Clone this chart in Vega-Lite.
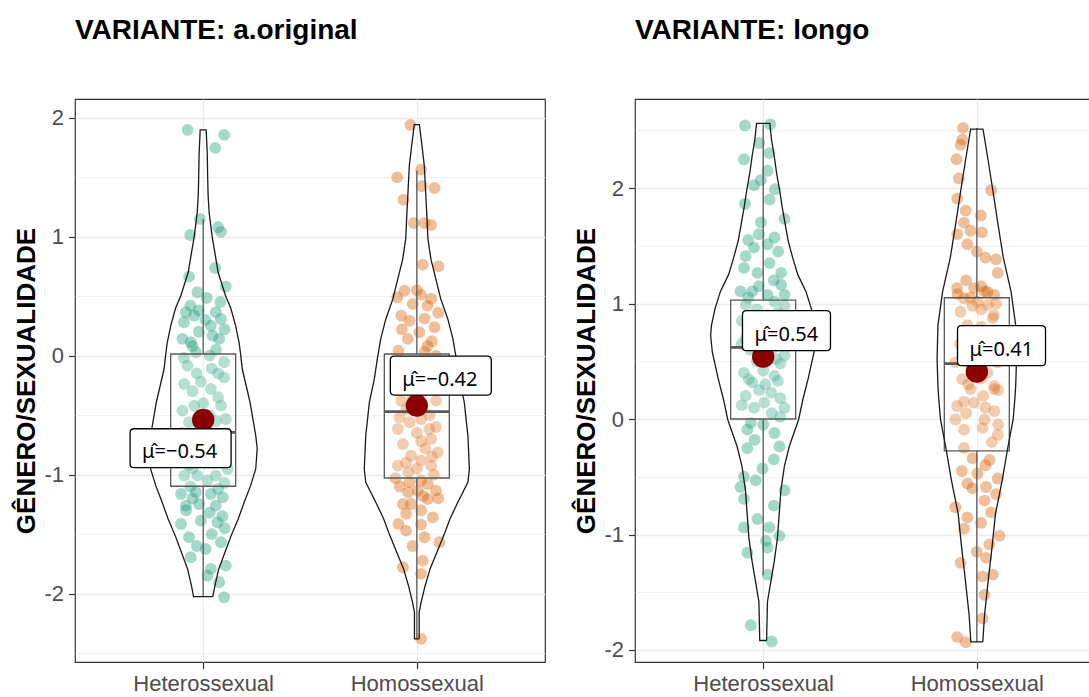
{
  "$schema": "https://vega.github.io/schema/vega-lite/v6.json",
  "padding": {"left": 13, "top": 16, "right": 0, "bottom": 0},
  "spacing": 27,
  "config": {
    "font": "Liberation Sans",
    "view": {"stroke": "#333333", "strokeWidth": 1.2},
    "axis": {
      "labelFont": "Liberation Sans",
      "labelFontSize": 22,
      "labelColor": "#4D4D4D",
      "tickColor": "#333333",
      "tickSize": 6.5,
      "tickWidth": 1.2,
      "labelPadding": 5,
      "domain": false,
      "gridColor": "#EBEBEB",
      "titleFont": "Liberation Sans",
      "titleFontSize": 26,
      "titleFontWeight": "bold",
      "titleColor": "#000000"
    }
  },
  "datasets": {
    "estat": [
      {"variante": "a.original", "grupo": "Heterossexual", "lo": -2.026, "q1": -1.098, "mediana": -0.645, "q3": 0.013, "hi": 1.148, "media": -0.54, "rotulo": "μ̂=−0.54"},
      {"variante": "a.original", "grupo": "Homossexual", "lo": -2.38, "q1": -1.029, "mediana": -0.471, "q3": 0.013, "hi": 1.554, "media": -0.42, "rotulo": "μ̂=−0.42"},
      {"variante": "longo", "grupo": "Heterossexual", "lo": -1.35, "q1": 0.0, "mediana": 0.62, "q3": 1.03, "hi": 2.55, "media": 0.54, "rotulo": "μ̂=0.54"},
      {"variante": "longo", "grupo": "Homossexual", "lo": -1.93, "q1": -0.276, "mediana": 0.48, "q3": 1.05, "hi": 2.52, "media": 0.41, "rotulo": "μ̂=0.41"}
    ],
    "violino": [
      {"variante": "a.original", "grupo": "Heterossexual", "valor": -2.026, "dens": 0.045, "ordem": 1},
      {"variante": "a.original", "grupo": "Heterossexual", "valor": -1.934, "dens": 0.055, "ordem": 2},
      {"variante": "a.original", "grupo": "Heterossexual", "valor": -1.793, "dens": 0.073, "ordem": 3},
      {"variante": "a.original", "grupo": "Heterossexual", "valor": -1.653, "dens": 0.102, "ordem": 4},
      {"variante": "a.original", "grupo": "Heterossexual", "valor": -1.513, "dens": 0.131, "ordem": 5},
      {"variante": "a.original", "grupo": "Heterossexual", "valor": -1.373, "dens": 0.164, "ordem": 6},
      {"variante": "a.original", "grupo": "Heterossexual", "valor": -1.233, "dens": 0.192, "ordem": 7},
      {"variante": "a.original", "grupo": "Heterossexual", "valor": -1.093, "dens": 0.222, "ordem": 8},
      {"variante": "a.original", "grupo": "Heterossexual", "valor": -0.953, "dens": 0.246, "ordem": 9},
      {"variante": "a.original", "grupo": "Heterossexual", "valor": -0.78, "dens": 0.253, "ordem": 10},
      {"variante": "a.original", "grupo": "Heterossexual", "valor": -0.673, "dens": 0.246, "ordem": 11},
      {"variante": "a.original", "grupo": "Heterossexual", "valor": -0.39, "dens": 0.219, "ordem": 12},
      {"variante": "a.original", "grupo": "Heterossexual", "valor": -0.113, "dens": 0.183, "ordem": 13},
      {"variante": "a.original", "grupo": "Heterossexual", "valor": 0.0, "dens": 0.176, "ordem": 14},
      {"variante": "a.original", "grupo": "Heterossexual", "valor": 0.1, "dens": 0.169, "ordem": 15},
      {"variante": "a.original", "grupo": "Heterossexual", "valor": 0.25, "dens": 0.152, "ordem": 16},
      {"variante": "a.original", "grupo": "Heterossexual", "valor": 0.4, "dens": 0.129, "ordem": 17},
      {"variante": "a.original", "grupo": "Heterossexual", "valor": 0.5, "dens": 0.105, "ordem": 18},
      {"variante": "a.original", "grupo": "Heterossexual", "valor": 0.7, "dens": 0.07, "ordem": 19},
      {"variante": "a.original", "grupo": "Heterossexual", "valor": 0.85, "dens": 0.056, "ordem": 20},
      {"variante": "a.original", "grupo": "Heterossexual", "valor": 1.0, "dens": 0.042, "ordem": 21},
      {"variante": "a.original", "grupo": "Heterossexual", "valor": 1.1, "dens": 0.035, "ordem": 22},
      {"variante": "a.original", "grupo": "Heterossexual", "valor": 1.2, "dens": 0.028, "ordem": 23},
      {"variante": "a.original", "grupo": "Heterossexual", "valor": 1.35, "dens": 0.023, "ordem": 24},
      {"variante": "a.original", "grupo": "Heterossexual", "valor": 1.5, "dens": 0.021, "ordem": 25},
      {"variante": "a.original", "grupo": "Heterossexual", "valor": 1.7, "dens": 0.019, "ordem": 26},
      {"variante": "a.original", "grupo": "Heterossexual", "valor": 1.896, "dens": 0.014, "ordem": 27},
      {"variante": "a.original", "grupo": "Heterossexual", "valor": 1.896, "dens": -0.014, "ordem": 28},
      {"variante": "a.original", "grupo": "Heterossexual", "valor": 1.7, "dens": -0.019, "ordem": 29},
      {"variante": "a.original", "grupo": "Heterossexual", "valor": 1.5, "dens": -0.021, "ordem": 30},
      {"variante": "a.original", "grupo": "Heterossexual", "valor": 1.35, "dens": -0.023, "ordem": 31},
      {"variante": "a.original", "grupo": "Heterossexual", "valor": 1.2, "dens": -0.028, "ordem": 32},
      {"variante": "a.original", "grupo": "Heterossexual", "valor": 1.1, "dens": -0.035, "ordem": 33},
      {"variante": "a.original", "grupo": "Heterossexual", "valor": 1.0, "dens": -0.042, "ordem": 34},
      {"variante": "a.original", "grupo": "Heterossexual", "valor": 0.85, "dens": -0.056, "ordem": 35},
      {"variante": "a.original", "grupo": "Heterossexual", "valor": 0.7, "dens": -0.07, "ordem": 36},
      {"variante": "a.original", "grupo": "Heterossexual", "valor": 0.5, "dens": -0.105, "ordem": 37},
      {"variante": "a.original", "grupo": "Heterossexual", "valor": 0.4, "dens": -0.129, "ordem": 38},
      {"variante": "a.original", "grupo": "Heterossexual", "valor": 0.25, "dens": -0.152, "ordem": 39},
      {"variante": "a.original", "grupo": "Heterossexual", "valor": 0.1, "dens": -0.169, "ordem": 40},
      {"variante": "a.original", "grupo": "Heterossexual", "valor": 0.0, "dens": -0.176, "ordem": 41},
      {"variante": "a.original", "grupo": "Heterossexual", "valor": -0.113, "dens": -0.183, "ordem": 42},
      {"variante": "a.original", "grupo": "Heterossexual", "valor": -0.39, "dens": -0.219, "ordem": 43},
      {"variante": "a.original", "grupo": "Heterossexual", "valor": -0.673, "dens": -0.246, "ordem": 44},
      {"variante": "a.original", "grupo": "Heterossexual", "valor": -0.78, "dens": -0.253, "ordem": 45},
      {"variante": "a.original", "grupo": "Heterossexual", "valor": -0.953, "dens": -0.246, "ordem": 46},
      {"variante": "a.original", "grupo": "Heterossexual", "valor": -1.093, "dens": -0.222, "ordem": 47},
      {"variante": "a.original", "grupo": "Heterossexual", "valor": -1.233, "dens": -0.192, "ordem": 48},
      {"variante": "a.original", "grupo": "Heterossexual", "valor": -1.373, "dens": -0.164, "ordem": 49},
      {"variante": "a.original", "grupo": "Heterossexual", "valor": -1.513, "dens": -0.131, "ordem": 50},
      {"variante": "a.original", "grupo": "Heterossexual", "valor": -1.653, "dens": -0.102, "ordem": 51},
      {"variante": "a.original", "grupo": "Heterossexual", "valor": -1.793, "dens": -0.073, "ordem": 52},
      {"variante": "a.original", "grupo": "Heterossexual", "valor": -1.934, "dens": -0.055, "ordem": 53},
      {"variante": "a.original", "grupo": "Heterossexual", "valor": -2.026, "dens": -0.045, "ordem": 54},
      {"variante": "a.original", "grupo": "Heterossexual", "valor": -2.026, "dens": 0.045, "ordem": 55},

      {"variante": "a.original", "grupo": "Homossexual", "valor": -2.38, "dens": 0.011, "ordem": 1},
      {"variante": "a.original", "grupo": "Homossexual", "valor": -2.157, "dens": 0.011, "ordem": 2},
      {"variante": "a.original", "grupo": "Homossexual", "valor": -2.074, "dens": 0.02, "ordem": 3},
      {"variante": "a.original", "grupo": "Homossexual", "valor": -1.934, "dens": 0.039, "ordem": 4},
      {"variante": "a.original", "grupo": "Homossexual", "valor": -1.793, "dens": 0.062, "ordem": 5},
      {"variante": "a.original", "grupo": "Homossexual", "valor": -1.653, "dens": 0.094, "ordem": 6},
      {"variante": "a.original", "grupo": "Homossexual", "valor": -1.513, "dens": 0.126, "ordem": 7},
      {"variante": "a.original", "grupo": "Homossexual", "valor": -1.373, "dens": 0.155, "ordem": 8},
      {"variante": "a.original", "grupo": "Homossexual", "valor": -1.233, "dens": 0.192, "ordem": 9},
      {"variante": "a.original", "grupo": "Homossexual", "valor": -1.065, "dens": 0.239, "ordem": 10},
      {"variante": "a.original", "grupo": "Homossexual", "valor": -0.953, "dens": 0.246, "ordem": 11},
      {"variante": "a.original", "grupo": "Homossexual", "valor": -0.673, "dens": 0.239, "ordem": 12},
      {"variante": "a.original", "grupo": "Homossexual", "valor": -0.392, "dens": 0.222, "ordem": 13},
      {"variante": "a.original", "grupo": "Homossexual", "valor": -0.197, "dens": 0.199, "ordem": 14},
      {"variante": "a.original", "grupo": "Homossexual", "valor": -0.03, "dens": 0.185, "ordem": 15},
      {"variante": "a.original", "grupo": "Homossexual", "valor": 0.14, "dens": 0.169, "ordem": 16},
      {"variante": "a.original", "grupo": "Homossexual", "valor": 0.308, "dens": 0.145, "ordem": 17},
      {"variante": "a.original", "grupo": "Homossexual", "valor": 0.476, "dens": 0.112, "ordem": 18},
      {"variante": "a.original", "grupo": "Homossexual", "valor": 0.644, "dens": 0.089, "ordem": 19},
      {"variante": "a.original", "grupo": "Homossexual", "valor": 0.81, "dens": 0.066, "ordem": 20},
      {"variante": "a.original", "grupo": "Homossexual", "valor": 0.98, "dens": 0.052, "ordem": 21},
      {"variante": "a.original", "grupo": "Homossexual", "valor": 1.176, "dens": 0.047, "ordem": 22},
      {"variante": "a.original", "grupo": "Homossexual", "valor": 1.316, "dens": 0.043, "ordem": 23},
      {"variante": "a.original", "grupo": "Homossexual", "valor": 1.456, "dens": 0.039, "ordem": 24},
      {"variante": "a.original", "grupo": "Homossexual", "valor": 1.596, "dens": 0.035, "ordem": 25},
      {"variante": "a.original", "grupo": "Homossexual", "valor": 1.736, "dens": 0.026, "ordem": 26},
      {"variante": "a.original", "grupo": "Homossexual", "valor": 1.94, "dens": 0.012, "ordem": 27},
      {"variante": "a.original", "grupo": "Homossexual", "valor": 1.94, "dens": -0.012, "ordem": 28},
      {"variante": "a.original", "grupo": "Homossexual", "valor": 1.736, "dens": -0.026, "ordem": 29},
      {"variante": "a.original", "grupo": "Homossexual", "valor": 1.596, "dens": -0.035, "ordem": 30},
      {"variante": "a.original", "grupo": "Homossexual", "valor": 1.456, "dens": -0.039, "ordem": 31},
      {"variante": "a.original", "grupo": "Homossexual", "valor": 1.316, "dens": -0.043, "ordem": 32},
      {"variante": "a.original", "grupo": "Homossexual", "valor": 1.176, "dens": -0.047, "ordem": 33},
      {"variante": "a.original", "grupo": "Homossexual", "valor": 0.98, "dens": -0.052, "ordem": 34},
      {"variante": "a.original", "grupo": "Homossexual", "valor": 0.81, "dens": -0.066, "ordem": 35},
      {"variante": "a.original", "grupo": "Homossexual", "valor": 0.644, "dens": -0.089, "ordem": 36},
      {"variante": "a.original", "grupo": "Homossexual", "valor": 0.476, "dens": -0.112, "ordem": 37},
      {"variante": "a.original", "grupo": "Homossexual", "valor": 0.308, "dens": -0.145, "ordem": 38},
      {"variante": "a.original", "grupo": "Homossexual", "valor": 0.14, "dens": -0.169, "ordem": 39},
      {"variante": "a.original", "grupo": "Homossexual", "valor": -0.03, "dens": -0.185, "ordem": 40},
      {"variante": "a.original", "grupo": "Homossexual", "valor": -0.197, "dens": -0.199, "ordem": 41},
      {"variante": "a.original", "grupo": "Homossexual", "valor": -0.392, "dens": -0.222, "ordem": 42},
      {"variante": "a.original", "grupo": "Homossexual", "valor": -0.673, "dens": -0.239, "ordem": 43},
      {"variante": "a.original", "grupo": "Homossexual", "valor": -0.953, "dens": -0.246, "ordem": 44},
      {"variante": "a.original", "grupo": "Homossexual", "valor": -1.065, "dens": -0.239, "ordem": 45},
      {"variante": "a.original", "grupo": "Homossexual", "valor": -1.233, "dens": -0.192, "ordem": 46},
      {"variante": "a.original", "grupo": "Homossexual", "valor": -1.373, "dens": -0.155, "ordem": 47},
      {"variante": "a.original", "grupo": "Homossexual", "valor": -1.513, "dens": -0.126, "ordem": 48},
      {"variante": "a.original", "grupo": "Homossexual", "valor": -1.653, "dens": -0.094, "ordem": 49},
      {"variante": "a.original", "grupo": "Homossexual", "valor": -1.793, "dens": -0.062, "ordem": 50},
      {"variante": "a.original", "grupo": "Homossexual", "valor": -1.934, "dens": -0.039, "ordem": 51},
      {"variante": "a.original", "grupo": "Homossexual", "valor": -2.074, "dens": -0.02, "ordem": 52},
      {"variante": "a.original", "grupo": "Homossexual", "valor": -2.157, "dens": -0.011, "ordem": 53},
      {"variante": "a.original", "grupo": "Homossexual", "valor": -2.38, "dens": -0.011, "ordem": 54},
      {"variante": "a.original", "grupo": "Homossexual", "valor": -2.38, "dens": 0.011, "ordem": 55},

      {"variante": "longo", "grupo": "Heterossexual", "valor": -1.918, "dens": 0.016, "ordem": 1},
      {"variante": "longo", "grupo": "Heterossexual", "valor": -1.582, "dens": 0.02, "ordem": 2},
      {"variante": "longo", "grupo": "Heterossexual", "valor": -1.406, "dens": 0.036, "ordem": 3},
      {"variante": "longo", "grupo": "Heterossexual", "valor": -1.231, "dens": 0.052, "ordem": 4},
      {"variante": "longo", "grupo": "Heterossexual", "valor": -1.027, "dens": 0.067, "ordem": 5},
      {"variante": "longo", "grupo": "Heterossexual", "valor": -0.823, "dens": 0.075, "ordem": 6},
      {"variante": "longo", "grupo": "Heterossexual", "valor": -0.617, "dens": 0.083, "ordem": 7},
      {"variante": "longo", "grupo": "Heterossexual", "valor": -0.413, "dens": 0.099, "ordem": 8},
      {"variante": "longo", "grupo": "Heterossexual", "valor": -0.238, "dens": 0.122, "ordem": 9},
      {"variante": "longo", "grupo": "Heterossexual", "valor": -0.004, "dens": 0.166, "ordem": 10},
      {"variante": "longo", "grupo": "Heterossexual", "valor": 0.171, "dens": 0.186, "ordem": 11},
      {"variante": "longo", "grupo": "Heterossexual", "valor": 0.346, "dens": 0.21, "ordem": 12},
      {"variante": "longo", "grupo": "Heterossexual", "valor": 0.578, "dens": 0.238, "ordem": 13},
      {"variante": "longo", "grupo": "Heterossexual", "valor": 0.725, "dens": 0.246, "ordem": 14},
      {"variante": "longo", "grupo": "Heterossexual", "valor": 0.812, "dens": 0.242, "ordem": 15},
      {"variante": "longo", "grupo": "Heterossexual", "valor": 0.958, "dens": 0.225, "ordem": 16},
      {"variante": "longo", "grupo": "Heterossexual", "valor": 1.105, "dens": 0.2, "ordem": 17},
      {"variante": "longo", "grupo": "Heterossexual", "valor": 1.25, "dens": 0.162, "ordem": 18},
      {"variante": "longo", "grupo": "Heterossexual", "valor": 1.397, "dens": 0.138, "ordem": 19},
      {"variante": "longo", "grupo": "Heterossexual", "valor": 1.543, "dens": 0.117, "ordem": 20},
      {"variante": "longo", "grupo": "Heterossexual", "valor": 1.688, "dens": 0.103, "ordem": 21},
      {"variante": "longo", "grupo": "Heterossexual", "valor": 1.835, "dens": 0.089, "ordem": 22},
      {"variante": "longo", "grupo": "Heterossexual", "valor": 1.981, "dens": 0.077, "ordem": 23},
      {"variante": "longo", "grupo": "Heterossexual", "valor": 2.127, "dens": 0.063, "ordem": 24},
      {"variante": "longo", "grupo": "Heterossexual", "valor": 2.273, "dens": 0.052, "ordem": 25},
      {"variante": "longo", "grupo": "Heterossexual", "valor": 2.419, "dens": 0.039, "ordem": 26},
      {"variante": "longo", "grupo": "Heterossexual", "valor": 2.56, "dens": 0.031, "ordem": 27},
      {"variante": "longo", "grupo": "Heterossexual", "valor": 2.56, "dens": -0.031, "ordem": 28},
      {"variante": "longo", "grupo": "Heterossexual", "valor": 2.419, "dens": -0.039, "ordem": 29},
      {"variante": "longo", "grupo": "Heterossexual", "valor": 2.273, "dens": -0.052, "ordem": 30},
      {"variante": "longo", "grupo": "Heterossexual", "valor": 2.127, "dens": -0.063, "ordem": 31},
      {"variante": "longo", "grupo": "Heterossexual", "valor": 1.981, "dens": -0.077, "ordem": 32},
      {"variante": "longo", "grupo": "Heterossexual", "valor": 1.835, "dens": -0.089, "ordem": 33},
      {"variante": "longo", "grupo": "Heterossexual", "valor": 1.688, "dens": -0.103, "ordem": 34},
      {"variante": "longo", "grupo": "Heterossexual", "valor": 1.543, "dens": -0.117, "ordem": 35},
      {"variante": "longo", "grupo": "Heterossexual", "valor": 1.397, "dens": -0.138, "ordem": 36},
      {"variante": "longo", "grupo": "Heterossexual", "valor": 1.25, "dens": -0.162, "ordem": 37},
      {"variante": "longo", "grupo": "Heterossexual", "valor": 1.105, "dens": -0.2, "ordem": 38},
      {"variante": "longo", "grupo": "Heterossexual", "valor": 0.958, "dens": -0.225, "ordem": 39},
      {"variante": "longo", "grupo": "Heterossexual", "valor": 0.812, "dens": -0.242, "ordem": 40},
      {"variante": "longo", "grupo": "Heterossexual", "valor": 0.725, "dens": -0.246, "ordem": 41},
      {"variante": "longo", "grupo": "Heterossexual", "valor": 0.578, "dens": -0.238, "ordem": 42},
      {"variante": "longo", "grupo": "Heterossexual", "valor": 0.346, "dens": -0.21, "ordem": 43},
      {"variante": "longo", "grupo": "Heterossexual", "valor": 0.171, "dens": -0.186, "ordem": 44},
      {"variante": "longo", "grupo": "Heterossexual", "valor": -0.004, "dens": -0.166, "ordem": 45},
      {"variante": "longo", "grupo": "Heterossexual", "valor": -0.238, "dens": -0.122, "ordem": 46},
      {"variante": "longo", "grupo": "Heterossexual", "valor": -0.413, "dens": -0.099, "ordem": 47},
      {"variante": "longo", "grupo": "Heterossexual", "valor": -0.617, "dens": -0.083, "ordem": 48},
      {"variante": "longo", "grupo": "Heterossexual", "valor": -0.823, "dens": -0.075, "ordem": 49},
      {"variante": "longo", "grupo": "Heterossexual", "valor": -1.027, "dens": -0.067, "ordem": 50},
      {"variante": "longo", "grupo": "Heterossexual", "valor": -1.231, "dens": -0.052, "ordem": 51},
      {"variante": "longo", "grupo": "Heterossexual", "valor": -1.406, "dens": -0.036, "ordem": 52},
      {"variante": "longo", "grupo": "Heterossexual", "valor": -1.582, "dens": -0.02, "ordem": 53},
      {"variante": "longo", "grupo": "Heterossexual", "valor": -1.918, "dens": -0.016, "ordem": 54},
      {"variante": "longo", "grupo": "Heterossexual", "valor": -1.918, "dens": 0.016, "ordem": 55},

      {"variante": "longo", "grupo": "Homossexual", "valor": -1.93, "dens": 0.028, "ordem": 1},
      {"variante": "longo", "grupo": "Homossexual", "valor": -1.699, "dens": 0.036, "ordem": 2},
      {"variante": "longo", "grupo": "Homossexual", "valor": -1.406, "dens": 0.053, "ordem": 3},
      {"variante": "longo", "grupo": "Homossexual", "valor": -1.114, "dens": 0.071, "ordem": 4},
      {"variante": "longo", "grupo": "Homossexual", "valor": -0.823, "dens": 0.087, "ordem": 5},
      {"variante": "longo", "grupo": "Homossexual", "valor": -0.53, "dens": 0.119, "ordem": 6},
      {"variante": "longo", "grupo": "Homossexual", "valor": -0.238, "dens": 0.146, "ordem": 7},
      {"variante": "longo", "grupo": "Homossexual", "valor": -0.004, "dens": 0.17, "ordem": 8},
      {"variante": "longo", "grupo": "Homossexual", "valor": 0.171, "dens": 0.178, "ordem": 9},
      {"variante": "longo", "grupo": "Homossexual", "valor": 0.287, "dens": 0.182, "ordem": 10},
      {"variante": "longo", "grupo": "Homossexual", "valor": 0.52, "dens": 0.186, "ordem": 11},
      {"variante": "longo", "grupo": "Homossexual", "valor": 0.812, "dens": 0.182, "ordem": 12},
      {"variante": "longo", "grupo": "Homossexual", "valor": 1.105, "dens": 0.16, "ordem": 13},
      {"variante": "longo", "grupo": "Homossexual", "valor": 1.397, "dens": 0.124, "ordem": 14},
      {"variante": "longo", "grupo": "Homossexual", "valor": 1.688, "dens": 0.099, "ordem": 15},
      {"variante": "longo", "grupo": "Homossexual", "valor": 1.981, "dens": 0.075, "ordem": 16},
      {"variante": "longo", "grupo": "Homossexual", "valor": 2.273, "dens": 0.05, "ordem": 17},
      {"variante": "longo", "grupo": "Homossexual", "valor": 2.51, "dens": 0.029, "ordem": 18},
      {"variante": "longo", "grupo": "Homossexual", "valor": 2.51, "dens": -0.029, "ordem": 19},
      {"variante": "longo", "grupo": "Homossexual", "valor": 2.273, "dens": -0.05, "ordem": 20},
      {"variante": "longo", "grupo": "Homossexual", "valor": 1.981, "dens": -0.075, "ordem": 21},
      {"variante": "longo", "grupo": "Homossexual", "valor": 1.688, "dens": -0.099, "ordem": 22},
      {"variante": "longo", "grupo": "Homossexual", "valor": 1.397, "dens": -0.124, "ordem": 23},
      {"variante": "longo", "grupo": "Homossexual", "valor": 1.105, "dens": -0.16, "ordem": 24},
      {"variante": "longo", "grupo": "Homossexual", "valor": 0.812, "dens": -0.182, "ordem": 25},
      {"variante": "longo", "grupo": "Homossexual", "valor": 0.52, "dens": -0.186, "ordem": 26},
      {"variante": "longo", "grupo": "Homossexual", "valor": 0.287, "dens": -0.182, "ordem": 27},
      {"variante": "longo", "grupo": "Homossexual", "valor": 0.171, "dens": -0.178, "ordem": 28},
      {"variante": "longo", "grupo": "Homossexual", "valor": -0.004, "dens": -0.17, "ordem": 29},
      {"variante": "longo", "grupo": "Homossexual", "valor": -0.238, "dens": -0.146, "ordem": 30},
      {"variante": "longo", "grupo": "Homossexual", "valor": -0.53, "dens": -0.119, "ordem": 31},
      {"variante": "longo", "grupo": "Homossexual", "valor": -0.823, "dens": -0.087, "ordem": 32},
      {"variante": "longo", "grupo": "Homossexual", "valor": -1.114, "dens": -0.071, "ordem": 33},
      {"variante": "longo", "grupo": "Homossexual", "valor": -1.406, "dens": -0.053, "ordem": 34},
      {"variante": "longo", "grupo": "Homossexual", "valor": -1.699, "dens": -0.036, "ordem": 35},
      {"variante": "longo", "grupo": "Homossexual", "valor": -1.93, "dens": -0.028, "ordem": 36},
      {"variante": "longo", "grupo": "Homossexual", "valor": -1.93, "dens": 0.028, "ordem": 37}
    ],
    "pontos": [
      {"variante": "a.original", "grupo": "Heterossexual", "valor": 1.896, "jitter": -0.073},
      {"variante": "a.original", "grupo": "Heterossexual", "valor": 1.854, "jitter": 0.098},
      {"variante": "a.original", "grupo": "Heterossexual", "valor": 1.745, "jitter": 0.056},
      {"variante": "a.original", "grupo": "Heterossexual", "valor": 1.148, "jitter": -0.015},
      {"variante": "a.original", "grupo": "Heterossexual", "valor": 1.013, "jitter": -0.061},
      {"variante": "a.original", "grupo": "Heterossexual", "valor": 1.078, "jitter": 0.07},
      {"variante": "a.original", "grupo": "Heterossexual", "valor": 1.04, "jitter": 0.083},
      {"variante": "a.original", "grupo": "Heterossexual", "valor": 0.663, "jitter": -0.066},
      {"variante": "a.original", "grupo": "Heterossexual", "valor": 0.736, "jitter": 0.056},
      {"variante": "a.original", "grupo": "Heterossexual", "valor": 0.579, "jitter": 0.106},
      {"variante": "a.original", "grupo": "Heterossexual", "valor": 0.532, "jitter": -0.027},
      {"variante": "a.original", "grupo": "Heterossexual", "valor": 0.484, "jitter": 0.017},
      {"variante": "a.original", "grupo": "Heterossexual", "valor": 0.364, "jitter": -0.081},
      {"variante": "a.original", "grupo": "Heterossexual", "valor": 0.335, "jitter": -0.042},
      {"variante": "a.original", "grupo": "Heterossexual", "valor": 0.364, "jitter": 0.059},
      {"variante": "a.original", "grupo": "Heterossexual", "valor": 0.307, "jitter": 0.083},
      {"variante": "a.original", "grupo": "Heterossexual", "valor": 0.14, "jitter": -0.097},
      {"variante": "a.original", "grupo": "Heterossexual", "valor": 0.112, "jitter": -0.058},
      {"variante": "a.original", "grupo": "Heterossexual", "valor": 0.167, "jitter": 0.044},
      {"variante": "a.original", "grupo": "Heterossexual", "valor": 0.14, "jitter": 0.075},
      {"variante": "a.original", "grupo": "Heterossexual", "valor": 0.251, "jitter": 0.036},
      {"variante": "a.original", "grupo": "Heterossexual", "valor": 0.028, "jitter": -0.034},
      {"variante": "a.original", "grupo": "Heterossexual", "valor": -0.056, "jitter": 0.098},
      {"variante": "a.original", "grupo": "Heterossexual", "valor": -0.085, "jitter": -0.073},
      {"variante": "a.original", "grupo": "Heterossexual", "valor": -0.11, "jitter": 0.04},
      {"variante": "a.original", "grupo": "Heterossexual", "valor": -0.239, "jitter": -0.089},
      {"variante": "a.original", "grupo": "Heterossexual", "valor": -0.22, "jitter": -0.011},
      {"variante": "a.original", "grupo": "Heterossexual", "valor": -0.183, "jitter": 0.098},
      {"variante": "a.original", "grupo": "Heterossexual", "valor": -0.281, "jitter": 0.036},
      {"variante": "a.original", "grupo": "Heterossexual", "valor": -0.463, "jitter": -0.097},
      {"variante": "a.original", "grupo": "Heterossexual", "valor": -0.421, "jitter": -0.042},
      {"variante": "a.original", "grupo": "Heterossexual", "valor": -0.421, "jitter": 0.083},
      {"variante": "a.original", "grupo": "Heterossexual", "valor": -0.533, "jitter": 0.106},
      {"variante": "a.original", "grupo": "Heterossexual", "valor": -0.56, "jitter": -0.066},
      {"variante": "a.original", "grupo": "Heterossexual", "valor": -0.673, "jitter": 0.036},
      {"variante": "a.original", "grupo": "Heterossexual", "valor": -0.785, "jitter": -0.1},
      {"variante": "a.original", "grupo": "Heterossexual", "valor": -0.841, "jitter": -0.011},
      {"variante": "a.original", "grupo": "Heterossexual", "valor": -0.869, "jitter": 0.075},
      {"variante": "a.original", "grupo": "Heterossexual", "valor": -1.009, "jitter": -0.089},
      {"variante": "a.original", "grupo": "Heterossexual", "valor": -1.009, "jitter": -0.027},
      {"variante": "a.original", "grupo": "Heterossexual", "valor": -1.009, "jitter": 0.059},
      {"variante": "a.original", "grupo": "Heterossexual", "valor": -0.953, "jitter": 0.114},
      {"variante": "a.original", "grupo": "Heterossexual", "valor": -1.163, "jitter": -0.104},
      {"variante": "a.original", "grupo": "Heterossexual", "valor": -1.149, "jitter": -0.034},
      {"variante": "a.original", "grupo": "Heterossexual", "valor": -1.163, "jitter": 0.036},
      {"variante": "a.original", "grupo": "Heterossexual", "valor": -1.191, "jitter": 0.091},
      {"variante": "a.original", "grupo": "Heterossexual", "valor": -1.261, "jitter": -0.081},
      {"variante": "a.original", "grupo": "Heterossexual", "valor": -1.247, "jitter": -0.019},
      {"variante": "a.original", "grupo": "Heterossexual", "valor": -1.261, "jitter": 0.059},
      {"variante": "a.original", "grupo": "Heterossexual", "valor": -1.415, "jitter": -0.104},
      {"variante": "a.original", "grupo": "Heterossexual", "valor": -1.387, "jitter": -0.011},
      {"variante": "a.original", "grupo": "Heterossexual", "valor": -1.401, "jitter": 0.067},
      {"variante": "a.original", "grupo": "Heterossexual", "valor": -1.527, "jitter": -0.066},
      {"variante": "a.original", "grupo": "Heterossexual", "valor": -1.569, "jitter": 0.083},
      {"variante": "a.original", "grupo": "Heterossexual", "valor": -1.625, "jitter": 0.012},
      {"variante": "a.original", "grupo": "Heterossexual", "valor": -1.695, "jitter": -0.058},
      {"variante": "a.original", "grupo": "Heterossexual", "valor": -1.765, "jitter": 0.106},
      {"variante": "a.original", "grupo": "Heterossexual", "valor": -1.793, "jitter": 0.036},
      {"variante": "a.original", "grupo": "Heterossexual", "valor": -1.905, "jitter": 0.075},
      {"variante": "a.original", "grupo": "Heterossexual", "valor": -2.031, "jitter": 0.098},
      {"variante": "a.original", "grupo": "Heterossexual", "valor": 0.42, "jitter": -0.06},
      {"variante": "a.original", "grupo": "Heterossexual", "valor": 0.3, "jitter": 0.01},
      {"variante": "a.original", "grupo": "Heterossexual", "valor": 0.2, "jitter": -0.02},
      {"variante": "a.original", "grupo": "Heterossexual", "valor": 0.05, "jitter": 0.06},
      {"variante": "a.original", "grupo": "Heterossexual", "valor": -0.02, "jitter": -0.09},
      {"variante": "a.original", "grupo": "Heterossexual", "valor": -0.35, "jitter": 0.07},
      {"variante": "a.original", "grupo": "Heterossexual", "valor": -0.6, "jitter": 0.0},
      {"variante": "a.original", "grupo": "Heterossexual", "valor": -0.72, "jitter": -0.07},
      {"variante": "a.original", "grupo": "Heterossexual", "valor": -0.9, "jitter": 0.05},
      {"variante": "a.original", "grupo": "Heterossexual", "valor": -1.07, "jitter": 0.1},
      {"variante": "a.original", "grupo": "Heterossexual", "valor": -1.1, "jitter": -0.06},
      {"variante": "a.original", "grupo": "Heterossexual", "valor": -1.32, "jitter": 0.03},
      {"variante": "a.original", "grupo": "Heterossexual", "valor": -1.45, "jitter": 0.1},
      {"variante": "a.original", "grupo": "Heterossexual", "valor": -0.5, "jitter": 0.03},
      {"variante": "a.original", "grupo": "Heterossexual", "valor": -0.3, "jitter": -0.05},
      {"variante": "a.original", "grupo": "Heterossexual", "valor": -0.95, "jitter": -0.05},
      {"variante": "a.original", "grupo": "Heterossexual", "valor": 0.45, "jitter": 0.08},
      {"variante": "a.original", "grupo": "Heterossexual", "valor": 0.38, "jitter": -0.02},
      {"variante": "a.original", "grupo": "Heterossexual", "valor": 0.28, "jitter": -0.09},
      {"variante": "a.original", "grupo": "Heterossexual", "valor": 0.22, "jitter": 0.1},
      {"variante": "a.original", "grupo": "Heterossexual", "valor": 0.08, "jitter": -0.05},
      {"variante": "a.original", "grupo": "Heterossexual", "valor": 0.0, "jitter": 0.03},
      {"variante": "a.original", "grupo": "Heterossexual", "valor": -0.15, "jitter": -0.03},
      {"variante": "a.original", "grupo": "Heterossexual", "valor": -0.4, "jitter": 0.0},
      {"variante": "a.original", "grupo": "Heterossexual", "valor": -0.55, "jitter": 0.06},
      {"variante": "a.original", "grupo": "Heterossexual", "valor": -0.65, "jitter": -0.1},
      {"variante": "a.original", "grupo": "Heterossexual", "valor": -0.75, "jitter": 0.08},
      {"variante": "a.original", "grupo": "Heterossexual", "valor": -0.82, "jitter": 0.03},
      {"variante": "a.original", "grupo": "Heterossexual", "valor": -0.92, "jitter": -0.07},
      {"variante": "a.original", "grupo": "Heterossexual", "valor": -1.05, "jitter": 0.02},
      {"variante": "a.original", "grupo": "Heterossexual", "valor": -1.12, "jitter": 0.07},
      {"variante": "a.original", "grupo": "Heterossexual", "valor": -1.2, "jitter": -0.05},
      {"variante": "a.original", "grupo": "Heterossexual", "valor": -1.3, "jitter": -0.08},
      {"variante": "a.original", "grupo": "Heterossexual", "valor": -1.35, "jitter": 0.09},
      {"variante": "a.original", "grupo": "Heterossexual", "valor": -1.5, "jitter": 0.04},
      {"variante": "a.original", "grupo": "Heterossexual", "valor": -1.6, "jitter": -0.03},
      {"variante": "a.original", "grupo": "Heterossexual", "valor": -1.85, "jitter": 0.02},
      {"variante": "a.original", "grupo": "Heterossexual", "valor": -0.15, "jitter": 0.07},

      {"variante": "a.original", "grupo": "Homossexual", "valor": 1.938, "jitter": -0.03},
      {"variante": "a.original", "grupo": "Homossexual", "valor": 1.498, "jitter": -0.092},
      {"variante": "a.original", "grupo": "Homossexual", "valor": 1.562, "jitter": 0.02},
      {"variante": "a.original", "grupo": "Homossexual", "valor": 1.408, "jitter": 0.083},
      {"variante": "a.original", "grupo": "Homossexual", "valor": 1.423, "jitter": 0.023},
      {"variante": "a.original", "grupo": "Homossexual", "valor": 1.31, "jitter": -0.062},
      {"variante": "a.original", "grupo": "Homossexual", "valor": 1.114, "jitter": -0.014},
      {"variante": "a.original", "grupo": "Homossexual", "valor": 1.114, "jitter": 0.036},
      {"variante": "a.original", "grupo": "Homossexual", "valor": 1.097, "jitter": 0.067},
      {"variante": "a.original", "grupo": "Homossexual", "valor": 0.764, "jitter": 0.028},
      {"variante": "a.original", "grupo": "Homossexual", "valor": 0.75, "jitter": 0.101},
      {"variante": "a.original", "grupo": "Homossexual", "valor": 0.49, "jitter": -0.092},
      {"variante": "a.original", "grupo": "Homossexual", "valor": 0.545, "jitter": -0.058},
      {"variante": "a.original", "grupo": "Homossexual", "valor": 0.51, "jitter": 0.02},
      {"variante": "a.original", "grupo": "Homossexual", "valor": 0.476, "jitter": 0.067},
      {"variante": "a.original", "grupo": "Homossexual", "valor": 0.335, "jitter": -0.073},
      {"variante": "a.original", "grupo": "Homossexual", "valor": 0.434, "jitter": -0.019},
      {"variante": "a.original", "grupo": "Homossexual", "valor": 0.293, "jitter": -0.034},
      {"variante": "a.original", "grupo": "Homossexual", "valor": 0.31, "jitter": 0.036},
      {"variante": "a.original", "grupo": "Homossexual", "valor": 0.238, "jitter": 0.083},
      {"variante": "a.original", "grupo": "Homossexual", "valor": 0.14, "jitter": -0.042},
      {"variante": "a.original", "grupo": "Homossexual", "valor": 0.196, "jitter": 0.012},
      {"variante": "a.original", "grupo": "Homossexual", "valor": 0.041, "jitter": -0.086},
      {"variante": "a.original", "grupo": "Homossexual", "valor": 0.03, "jitter": 0.036},
      {"variante": "a.original", "grupo": "Homossexual", "valor": 0.0, "jitter": 0.09},
      {"variante": "a.original", "grupo": "Homossexual", "valor": -0.197, "jitter": -0.065},
      {"variante": "a.original", "grupo": "Homossexual", "valor": -0.211, "jitter": 0.075},
      {"variante": "a.original", "grupo": "Homossexual", "valor": -0.379, "jitter": 0.09},
      {"variante": "a.original", "grupo": "Homossexual", "valor": -0.38, "jitter": -0.073},
      {"variante": "a.original", "grupo": "Homossexual", "valor": -0.617, "jitter": -0.089},
      {"variante": "a.original", "grupo": "Homossexual", "valor": -0.56, "jitter": -0.034},
      {"variante": "a.original", "grupo": "Homossexual", "valor": -0.617, "jitter": 0.059},
      {"variante": "a.original", "grupo": "Homossexual", "valor": -0.533, "jitter": 0.02},
      {"variante": "a.original", "grupo": "Homossexual", "valor": -0.743, "jitter": -0.065},
      {"variante": "a.original", "grupo": "Homossexual", "valor": -0.7, "jitter": 0.067},
      {"variante": "a.original", "grupo": "Homossexual", "valor": -0.813, "jitter": 0.098},
      {"variante": "a.original", "grupo": "Homossexual", "valor": -0.841, "jitter": -0.027},
      {"variante": "a.original", "grupo": "Homossexual", "valor": -0.925, "jitter": -0.089},
      {"variante": "a.original", "grupo": "Homossexual", "valor": -0.925, "jitter": 0.067},
      {"variante": "a.original", "grupo": "Homossexual", "valor": -0.883, "jitter": 0.02},
      {"variante": "a.original", "grupo": "Homossexual", "valor": -1.065, "jitter": -0.034},
      {"variante": "a.original", "grupo": "Homossexual", "valor": -1.079, "jitter": 0.051},
      {"variante": "a.original", "grupo": "Homossexual", "valor": -1.135, "jitter": 0.09},
      {"variante": "a.original", "grupo": "Homossexual", "valor": -1.135, "jitter": 0.005},
      {"variante": "a.original", "grupo": "Homossexual", "valor": -1.247, "jitter": -0.065},
      {"variante": "a.original", "grupo": "Homossexual", "valor": -1.205, "jitter": 0.051},
      {"variante": "a.original", "grupo": "Homossexual", "valor": -1.247, "jitter": -0.027},
      {"variante": "a.original", "grupo": "Homossexual", "valor": -1.415, "jitter": -0.086},
      {"variante": "a.original", "grupo": "Homossexual", "valor": -1.471, "jitter": -0.05},
      {"variante": "a.original", "grupo": "Homossexual", "valor": -1.359, "jitter": 0.075},
      {"variante": "a.original", "grupo": "Homossexual", "valor": -1.527, "jitter": 0.036},
      {"variante": "a.original", "grupo": "Homossexual", "valor": -1.569, "jitter": 0.106},
      {"variante": "a.original", "grupo": "Homossexual", "valor": -1.779, "jitter": -0.065},
      {"variante": "a.original", "grupo": "Homossexual", "valor": -1.723, "jitter": 0.028},
      {"variante": "a.original", "grupo": "Homossexual", "valor": -1.835, "jitter": 0.02},
      {"variante": "a.original", "grupo": "Homossexual", "valor": -2.381, "jitter": 0.02},
      {"variante": "a.original", "grupo": "Homossexual", "valor": -0.1, "jitter": -0.02},
      {"variante": "a.original", "grupo": "Homossexual", "valor": -0.3, "jitter": 0.03},
      {"variante": "a.original", "grupo": "Homossexual", "valor": -0.45, "jitter": -0.05},
      {"variante": "a.original", "grupo": "Homossexual", "valor": -0.65, "jitter": 0.0},
      {"variante": "a.original", "grupo": "Homossexual", "valor": -0.78, "jitter": 0.04},
      {"variante": "a.original", "grupo": "Homossexual", "valor": -0.98, "jitter": -0.04},
      {"variante": "a.original", "grupo": "Homossexual", "valor": -1.0, "jitter": 0.08},
      {"variante": "a.original", "grupo": "Homossexual", "valor": -1.1, "jitter": -0.08},
      {"variante": "a.original", "grupo": "Homossexual", "valor": -1.3, "jitter": 0.02},
      {"variante": "a.original", "grupo": "Homossexual", "valor": -0.25, "jitter": -0.03},
      {"variante": "a.original", "grupo": "Homossexual", "valor": 0.08, "jitter": 0.05},
      {"variante": "a.original", "grupo": "Homossexual", "valor": -0.5, "jitter": 0.06},
      {"variante": "a.original", "grupo": "Homossexual", "valor": -0.95, "jitter": 0.0},
      {"variante": "a.original", "grupo": "Homossexual", "valor": -1.18, "jitter": 0.03},
      {"variante": "a.original", "grupo": "Homossexual", "valor": 0.55, "jitter": 0.0},
      {"variante": "a.original", "grupo": "Homossexual", "valor": 0.42, "jitter": 0.05},
      {"variante": "a.original", "grupo": "Homossexual", "valor": 0.36, "jitter": 0.1},
      {"variante": "a.original", "grupo": "Homossexual", "valor": 0.22, "jitter": -0.07},
      {"variante": "a.original", "grupo": "Homossexual", "valor": 0.12, "jitter": 0.07},
      {"variante": "a.original", "grupo": "Homossexual", "valor": -0.05, "jitter": 0.05},
      {"variante": "a.original", "grupo": "Homossexual", "valor": -0.15, "jitter": 0.1},
      {"variante": "a.original", "grupo": "Homossexual", "valor": -0.35, "jitter": -0.02},
      {"variante": "a.original", "grupo": "Homossexual", "valor": -0.52, "jitter": -0.08},
      {"variante": "a.original", "grupo": "Homossexual", "valor": -0.6, "jitter": 0.09},
      {"variante": "a.original", "grupo": "Homossexual", "valor": -0.72, "jitter": 0.02},
      {"variante": "a.original", "grupo": "Homossexual", "valor": -0.85, "jitter": 0.07},
      {"variante": "a.original", "grupo": "Homossexual", "valor": -0.9, "jitter": -0.05},
      {"variante": "a.original", "grupo": "Homossexual", "valor": -1.03, "jitter": -0.1},
      {"variante": "a.original", "grupo": "Homossexual", "valor": -1.15, "jitter": -0.04},
      {"variante": "a.original", "grupo": "Homossexual", "valor": -1.2, "jitter": 0.1},
      {"variante": "a.original", "grupo": "Homossexual", "valor": -1.33, "jitter": -0.05},
      {"variante": "a.original", "grupo": "Homossexual", "valor": -1.42, "jitter": 0.02},
      {"variante": "a.original", "grupo": "Homossexual", "valor": -1.6, "jitter": -0.02},
      {"variante": "a.original", "grupo": "Homossexual", "valor": -1.05, "jitter": 0.02},

      {"variante": "longo", "grupo": "Heterossexual", "valor": 2.542, "jitter": -0.085},
      {"variante": "longo", "grupo": "Heterossexual", "valor": 2.551, "jitter": 0.033},
      {"variante": "longo", "grupo": "Heterossexual", "valor": 2.249, "jitter": -0.09},
      {"variante": "longo", "grupo": "Heterossexual", "valor": 2.39, "jitter": -0.019},
      {"variante": "longo", "grupo": "Heterossexual", "valor": 2.302, "jitter": 0.029},
      {"variante": "longo", "grupo": "Heterossexual", "valor": 2.024, "jitter": -0.043},
      {"variante": "longo", "grupo": "Heterossexual", "valor": 1.99, "jitter": 0.055},
      {"variante": "longo", "grupo": "Heterossexual", "valor": 2.068, "jitter": -0.011},
      {"variante": "longo", "grupo": "Heterossexual", "valor": 1.864, "jitter": -0.085},
      {"variante": "longo", "grupo": "Heterossexual", "valor": 1.733, "jitter": 0.1},
      {"variante": "longo", "grupo": "Heterossexual", "valor": 1.703, "jitter": -0.011},
      {"variante": "longo", "grupo": "Heterossexual", "valor": 1.572, "jitter": 0.053},
      {"variante": "longo", "grupo": "Heterossexual", "valor": 1.484, "jitter": -0.043},
      {"variante": "longo", "grupo": "Heterossexual", "valor": 1.411, "jitter": -0.082},
      {"variante": "longo", "grupo": "Heterossexual", "valor": 1.513, "jitter": 0.021},
      {"variante": "longo", "grupo": "Heterossexual", "valor": 1.265, "jitter": 0.084},
      {"variante": "longo", "grupo": "Heterossexual", "valor": 1.265, "jitter": -0.027},
      {"variante": "longo", "grupo": "Heterossexual", "valor": 1.309, "jitter": -0.09},
      {"variante": "longo", "grupo": "Heterossexual", "valor": 1.105, "jitter": -0.106},
      {"variante": "longo", "grupo": "Heterossexual", "valor": 1.163, "jitter": 0.084},
      {"variante": "longo", "grupo": "Heterossexual", "valor": 1.105, "jitter": -0.051},
      {"variante": "longo", "grupo": "Heterossexual", "valor": 1.075, "jitter": 0.021},
      {"variante": "longo", "grupo": "Heterossexual", "valor": 1.075, "jitter": 0.1},
      {"variante": "longo", "grupo": "Heterossexual", "valor": 1.017, "jitter": 0.053},
      {"variante": "longo", "grupo": "Heterossexual", "valor": 0.988, "jitter": -0.082},
      {"variante": "longo", "grupo": "Heterossexual", "valor": 0.695, "jitter": -0.082},
      {"variante": "longo", "grupo": "Heterossexual", "valor": 0.812, "jitter": -0.043},
      {"variante": "longo", "grupo": "Heterossexual", "valor": 0.812, "jitter": 0.068},
      {"variante": "longo", "grupo": "Heterossexual", "valor": 0.345, "jitter": -0.067},
      {"variante": "longo", "grupo": "Heterossexual", "valor": 0.374, "jitter": 0.053},
      {"variante": "longo", "grupo": "Heterossexual", "valor": 0.317, "jitter": -0.051},
      {"variante": "longo", "grupo": "Heterossexual", "valor": 0.33, "jitter": 0.069},
      {"variante": "longo", "grupo": "Heterossexual", "valor": 0.2, "jitter": -0.082},
      {"variante": "longo", "grupo": "Heterossexual", "valor": 0.229, "jitter": 0.037},
      {"variante": "longo", "grupo": "Heterossexual", "valor": 0.098, "jitter": -0.043},
      {"variante": "longo", "grupo": "Heterossexual", "valor": 0.098, "jitter": 0.1},
      {"variante": "longo", "grupo": "Heterossexual", "valor": 0.142, "jitter": 0.005},
      {"variante": "longo", "grupo": "Heterossexual", "valor": -0.034, "jitter": -0.058},
      {"variante": "longo", "grupo": "Heterossexual", "valor": -0.121, "jitter": 0.053},
      {"variante": "longo", "grupo": "Heterossexual", "valor": -0.092, "jitter": -0.074},
      {"variante": "longo", "grupo": "Heterossexual", "valor": -0.253, "jitter": -0.074},
      {"variante": "longo", "grupo": "Heterossexual", "valor": -0.238, "jitter": 0.076},
      {"variante": "longo", "grupo": "Heterossexual", "valor": -0.428, "jitter": -0.003},
      {"variante": "longo", "grupo": "Heterossexual", "valor": -0.5, "jitter": -0.09},
      {"variante": "longo", "grupo": "Heterossexual", "valor": -0.53, "jitter": -0.035},
      {"variante": "longo", "grupo": "Heterossexual", "valor": -0.589, "jitter": -0.106},
      {"variante": "longo", "grupo": "Heterossexual", "valor": -0.617, "jitter": 0.1},
      {"variante": "longo", "grupo": "Heterossexual", "valor": -0.691, "jitter": -0.09},
      {"variante": "longo", "grupo": "Heterossexual", "valor": -0.866, "jitter": -0.027},
      {"variante": "longo", "grupo": "Heterossexual", "valor": -0.939, "jitter": -0.09},
      {"variante": "longo", "grupo": "Heterossexual", "valor": -0.939, "jitter": 0.029},
      {"variante": "longo", "grupo": "Heterossexual", "valor": -1.012, "jitter": 0.076},
      {"variante": "longo", "grupo": "Heterossexual", "valor": -1.055, "jitter": 0.013},
      {"variante": "longo", "grupo": "Heterossexual", "valor": -1.158, "jitter": -0.074},
      {"variante": "longo", "grupo": "Heterossexual", "valor": -1.114, "jitter": 0.021},
      {"variante": "longo", "grupo": "Heterossexual", "valor": -1.348, "jitter": 0.021},
      {"variante": "longo", "grupo": "Heterossexual", "valor": -1.786, "jitter": -0.058},
      {"variante": "longo", "grupo": "Heterossexual", "valor": -1.926, "jitter": 0.04},
      {"variante": "longo", "grupo": "Heterossexual", "valor": 0.9, "jitter": 0.02},
      {"variante": "longo", "grupo": "Heterossexual", "valor": 0.85, "jitter": -0.1},
      {"variante": "longo", "grupo": "Heterossexual", "valor": 0.75, "jitter": 0.04},
      {"variante": "longo", "grupo": "Heterossexual", "valor": 0.7, "jitter": 0.09},
      {"variante": "longo", "grupo": "Heterossexual", "valor": 0.6, "jitter": -0.06},
      {"variante": "longo", "grupo": "Heterossexual", "valor": 0.62, "jitter": 0.05},
      {"variante": "longo", "grupo": "Heterossexual", "valor": 0.5, "jitter": -0.03},
      {"variante": "longo", "grupo": "Heterossexual", "valor": 0.48, "jitter": 0.08},
      {"variante": "longo", "grupo": "Heterossexual", "valor": 0.42, "jitter": 0.0},
      {"variante": "longo", "grupo": "Heterossexual", "valor": 0.55, "jitter": 0.1},
      {"variante": "longo", "grupo": "Heterossexual", "valor": 0.92, "jitter": 0.07},
      {"variante": "longo", "grupo": "Heterossexual", "valor": 0.25, "jitter": -0.02},
      {"variante": "longo", "grupo": "Heterossexual", "valor": 0.05, "jitter": 0.04},
      {"variante": "longo", "grupo": "Heterossexual", "valor": 0.18, "jitter": 0.08},
      {"variante": "longo", "grupo": "Heterossexual", "valor": 1.2, "jitter": 0.05},
      {"variante": "longo", "grupo": "Heterossexual", "valor": 1.35, "jitter": 0.03},
      {"variante": "longo", "grupo": "Heterossexual", "valor": 1.6, "jitter": -0.02},
      {"variante": "longo", "grupo": "Heterossexual", "valor": 1.45, "jitter": 0.07},
      {"variante": "longo", "grupo": "Heterossexual", "valor": 0.95, "jitter": -0.03},
      {"variante": "longo", "grupo": "Heterossexual", "valor": 0.65, "jitter": -0.1},
      {"variante": "longo", "grupo": "Heterossexual", "valor": 1.15, "jitter": -0.02},
      {"variante": "longo", "grupo": "Heterossexual", "valor": 1.05, "jitter": -0.07},
      {"variante": "longo", "grupo": "Heterossexual", "valor": 0.98, "jitter": 0.1},
      {"variante": "longo", "grupo": "Heterossexual", "valor": 0.88, "jitter": -0.05},
      {"variante": "longo", "grupo": "Heterossexual", "valor": 0.78, "jitter": 0.0},
      {"variante": "longo", "grupo": "Heterossexual", "valor": 0.72, "jitter": -0.07},
      {"variante": "longo", "grupo": "Heterossexual", "valor": 0.58, "jitter": 0.02},
      {"variante": "longo", "grupo": "Heterossexual", "valor": 0.52, "jitter": 0.06},
      {"variante": "longo", "grupo": "Heterossexual", "valor": 0.4, "jitter": -0.09},
      {"variante": "longo", "grupo": "Heterossexual", "valor": 0.3, "jitter": 0.01},
      {"variante": "longo", "grupo": "Heterossexual", "valor": 0.12, "jitter": -0.1},
      {"variante": "longo", "grupo": "Heterossexual", "valor": 0.02, "jitter": 0.08},
      {"variante": "longo", "grupo": "Heterossexual", "valor": -0.05, "jitter": 0.0},
      {"variante": "longo", "grupo": "Heterossexual", "valor": -0.18, "jitter": -0.04},
      {"variante": "longo", "grupo": "Heterossexual", "valor": -0.35, "jitter": 0.05},
      {"variante": "longo", "grupo": "Heterossexual", "valor": -0.75, "jitter": 0.05},
      {"variante": "longo", "grupo": "Heterossexual", "valor": 1.55, "jitter": -0.07},
      {"variante": "longo", "grupo": "Heterossexual", "valor": 1.9, "jitter": 0.03},
      {"variante": "longo", "grupo": "Heterossexual", "valor": 2.15, "jitter": 0.02},
      {"variante": "longo", "grupo": "Heterossexual", "valor": 0.85, "jitter": 0.09},

      {"variante": "longo", "grupo": "Homossexual", "valor": 2.521, "jitter": -0.065},
      {"variante": "longo", "grupo": "Homossexual", "valor": 2.419, "jitter": -0.068},
      {"variante": "longo", "grupo": "Homossexual", "valor": 2.375, "jitter": -0.076},
      {"variante": "longo", "grupo": "Homossexual", "valor": 2.249, "jitter": -0.095},
      {"variante": "longo", "grupo": "Homossexual", "valor": 2.083, "jitter": -0.084},
      {"variante": "longo", "grupo": "Homossexual", "valor": 1.981, "jitter": 0.067},
      {"variante": "longo", "grupo": "Homossexual", "valor": 1.908, "jitter": -0.092},
      {"variante": "longo", "grupo": "Homossexual", "valor": 1.805, "jitter": -0.052},
      {"variante": "longo", "grupo": "Homossexual", "valor": 1.762, "jitter": 0.019},
      {"variante": "longo", "grupo": "Homossexual", "valor": 1.601, "jitter": -0.092},
      {"variante": "longo", "grupo": "Homossexual", "valor": 1.63, "jitter": -0.029},
      {"variante": "longo", "grupo": "Homossexual", "valor": 1.616, "jitter": 0.024},
      {"variante": "longo", "grupo": "Homossexual", "valor": 1.513, "jitter": -0.044},
      {"variante": "longo", "grupo": "Homossexual", "valor": 1.397, "jitter": 0.04},
      {"variante": "longo", "grupo": "Homossexual", "valor": 1.382, "jitter": 0.09},
      {"variante": "longo", "grupo": "Homossexual", "valor": 1.265, "jitter": 0.098},
      {"variante": "longo", "grupo": "Homossexual", "valor": 1.134, "jitter": -0.092},
      {"variante": "longo", "grupo": "Homossexual", "valor": 1.134, "jitter": -0.013},
      {"variante": "longo", "grupo": "Homossexual", "valor": 1.105, "jitter": 0.036},
      {"variante": "longo", "grupo": "Homossexual", "valor": 1.075, "jitter": 0.082},
      {"variante": "longo", "grupo": "Homossexual", "valor": 1.046, "jitter": -0.06},
      {"variante": "longo", "grupo": "Homossexual", "valor": 1.017, "jitter": 0.003},
      {"variante": "longo", "grupo": "Homossexual", "valor": 0.988, "jitter": 0.051},
      {"variante": "longo", "grupo": "Homossexual", "valor": 0.929, "jitter": -0.076},
      {"variante": "longo", "grupo": "Homossexual", "valor": 0.871, "jitter": 0.075},
      {"variante": "longo", "grupo": "Homossexual", "valor": 0.812, "jitter": -0.044},
      {"variante": "longo", "grupo": "Homossexual", "valor": 0.491, "jitter": -0.1},
      {"variante": "longo", "grupo": "Homossexual", "valor": 0.491, "jitter": 0.098},
      {"variante": "longo", "grupo": "Homossexual", "valor": 0.345, "jitter": -0.068},
      {"variante": "longo", "grupo": "Homossexual", "valor": 0.287, "jitter": 0.082},
      {"variante": "longo", "grupo": "Homossexual", "valor": 0.259, "jitter": -0.029},
      {"variante": "longo", "grupo": "Homossexual", "valor": 0.259, "jitter": 0.082},
      {"variante": "longo", "grupo": "Homossexual", "valor": 0.113, "jitter": -0.092},
      {"variante": "longo", "grupo": "Homossexual", "valor": 0.142, "jitter": -0.013},
      {"variante": "longo", "grupo": "Homossexual", "valor": 0.069, "jitter": 0.082},
      {"variante": "longo", "grupo": "Homossexual", "valor": -0.004, "jitter": -0.1},
      {"variante": "longo", "grupo": "Homossexual", "valor": -0.004, "jitter": 0.036},
      {"variante": "longo", "grupo": "Homossexual", "valor": -0.092, "jitter": -0.06},
      {"variante": "longo", "grupo": "Homossexual", "valor": -0.136, "jitter": 0.098},
      {"variante": "longo", "grupo": "Homossexual", "valor": -0.077, "jitter": 0.027},
      {"variante": "longo", "grupo": "Homossexual", "valor": -0.34, "jitter": -0.02},
      {"variante": "longo", "grupo": "Homossexual", "valor": -0.355, "jitter": 0.059},
      {"variante": "longo", "grupo": "Homossexual", "valor": -0.472, "jitter": 0.003},
      {"variante": "longo", "grupo": "Homossexual", "valor": -0.515, "jitter": 0.098},
      {"variante": "longo", "grupo": "Homossexual", "valor": -0.559, "jitter": -0.044},
      {"variante": "longo", "grupo": "Homossexual", "valor": -0.589, "jitter": 0.043},
      {"variante": "longo", "grupo": "Homossexual", "valor": -0.764, "jitter": -0.1},
      {"variante": "longo", "grupo": "Homossexual", "valor": -0.851, "jitter": -0.044},
      {"variante": "longo", "grupo": "Homossexual", "valor": -0.808, "jitter": 0.067},
      {"variante": "longo", "grupo": "Homossexual", "valor": -0.706, "jitter": 0.036},
      {"variante": "longo", "grupo": "Homossexual", "valor": -1.012, "jitter": 0.106},
      {"variante": "longo", "grupo": "Homossexual", "valor": -1.085, "jitter": 0.059},
      {"variante": "longo", "grupo": "Homossexual", "valor": -1.202, "jitter": 0.043},
      {"variante": "longo", "grupo": "Homossexual", "valor": -1.246, "jitter": -0.076},
      {"variante": "longo", "grupo": "Homossexual", "valor": -1.348, "jitter": 0.075},
      {"variante": "longo", "grupo": "Homossexual", "valor": -1.363, "jitter": 0.027},
      {"variante": "longo", "grupo": "Homossexual", "valor": -1.523, "jitter": 0.036},
      {"variante": "longo", "grupo": "Homossexual", "valor": -1.727, "jitter": 0.027},
      {"variante": "longo", "grupo": "Homossexual", "valor": -1.888, "jitter": -0.092},
      {"variante": "longo", "grupo": "Homossexual", "valor": -1.932, "jitter": -0.052},
      {"variante": "longo", "grupo": "Homossexual", "valor": 1.1, "jitter": 0.05},
      {"variante": "longo", "grupo": "Homossexual", "valor": 1.05, "jitter": -0.03},
      {"variante": "longo", "grupo": "Homossexual", "valor": 0.95, "jitter": 0.02},
      {"variante": "longo", "grupo": "Homossexual", "valor": 1.0, "jitter": 0.09},
      {"variante": "longo", "grupo": "Homossexual", "valor": 0.75, "jitter": 0.06},
      {"variante": "longo", "grupo": "Homossexual", "valor": 0.65, "jitter": -0.08},
      {"variante": "longo", "grupo": "Homossexual", "valor": 0.55, "jitter": 0.02},
      {"variante": "longo", "grupo": "Homossexual", "valor": 0.4, "jitter": 0.05},
      {"variante": "longo", "grupo": "Homossexual", "valor": 0.3, "jitter": -0.04},
      {"variante": "longo", "grupo": "Homossexual", "valor": 0.2, "jitter": 0.03},
      {"variante": "longo", "grupo": "Homossexual", "valor": 0.05, "jitter": -0.05},
      {"variante": "longo", "grupo": "Homossexual", "valor": -0.2, "jitter": 0.07},
      {"variante": "longo", "grupo": "Homossexual", "valor": -0.45, "jitter": -0.07},
      {"variante": "longo", "grupo": "Homossexual", "valor": -0.65, "jitter": 0.09},
      {"variante": "longo", "grupo": "Homossexual", "valor": 0.6, "jitter": 0.08},
      {"variante": "longo", "grupo": "Homossexual", "valor": 0.45, "jitter": -0.02},
      {"variante": "longo", "grupo": "Homossexual", "valor": -0.9, "jitter": 0.02},
      {"variante": "longo", "grupo": "Homossexual", "valor": 1.2, "jitter": -0.05},
      {"variante": "longo", "grupo": "Homossexual", "valor": 1.15, "jitter": 0.02},
      {"variante": "longo", "grupo": "Homossexual", "valor": 1.08, "jitter": -0.09},
      {"variante": "longo", "grupo": "Homossexual", "valor": 0.98, "jitter": -0.02},
      {"variante": "longo", "grupo": "Homossexual", "valor": 0.9, "jitter": 0.08},
      {"variante": "longo", "grupo": "Homossexual", "valor": 0.8, "jitter": 0.02},
      {"variante": "longo", "grupo": "Homossexual", "valor": 0.7, "jitter": -0.03},
      {"variante": "longo", "grupo": "Homossexual", "valor": 0.62, "jitter": 0.1},
      {"variante": "longo", "grupo": "Homossexual", "valor": 0.5, "jitter": -0.05},
      {"variante": "longo", "grupo": "Homossexual", "valor": 0.35, "jitter": 0.02},
      {"variante": "longo", "grupo": "Homossexual", "valor": 0.25, "jitter": 0.1},
      {"variante": "longo", "grupo": "Homossexual", "valor": 0.15, "jitter": -0.06},
      {"variante": "longo", "grupo": "Homossexual", "valor": 0.1, "jitter": 0.04},
      {"variante": "longo", "grupo": "Homossexual", "valor": -0.05, "jitter": 0.1},
      {"variante": "longo", "grupo": "Homossexual", "valor": -0.25, "jitter": -0.06},
      {"variante": "longo", "grupo": "Homossexual", "valor": -0.4, "jitter": 0.04},
      {"variante": "longo", "grupo": "Homossexual", "valor": -0.6, "jitter": -0.02},
      {"variante": "longo", "grupo": "Homossexual", "valor": -0.95, "jitter": -0.06},
      {"variante": "longo", "grupo": "Homossexual", "valor": -1.15, "jitter": 0.0},
      {"variante": "longo", "grupo": "Homossexual", "valor": 1.7, "jitter": -0.06},
      {"variante": "longo", "grupo": "Homossexual", "valor": 1.45, "jitter": 0.0}
    ]
  },
  "hconcat": [
    {
      "title": {"text": "VARIANTE: a.original", "anchor": "start", "frame": "group", "fontSize": 28, "fontWeight": "bold", "color": "#000000", "font": "Liberation Sans", "offset": 54},
      "width": 470,
      "height": 563,
      "layer": [
        {
          "data": {"name": "pontos"},
          "transform": [{"filter": "datum.variante == 'a.original'"}],
          "mark": {"type": "circle", "size": 140, "opacity": 0.4},
          "encoding": {
            "x": {"field": "grupo", "type": "nominal", "scale": {"type": "point", "padding": 0.6}, "axis": {"title": null, "labelAngle": 0, "grid": true, "gridWidth": 1.2}},
            "xOffset": {"field": "jitter", "type": "quantitative", "scale": {"domain": [-1, 1], "range": [-213.64, 213.64]}},
            "y": {"field": "valor", "type": "quantitative", "scale": {"domain": [-2.575, 2.156], "nice": false, "zero": false},
              "axis": {"title": "GÊNERO/SEXUALIDADE", "values": [-2.5, -2, -1.5, -1, -0.5, 0, 0.5, 1, 1.5, 2], "grid": true,
                "labelExpr": "datum.value % 1 == 0 ? ('' + datum.value) : ''",
                "tickOpacity": {"condition": {"test": "datum.value % 1 != 0", "value": 0}, "value": 1},
                "gridWidth": {"condition": {"test": "datum.value % 1 != 0", "value": 0.7}, "value": 1.3},
                "titlePadding": 4}},
            "color": {"field": "grupo", "type": "nominal", "scale": {"domain": ["Heterossexual", "Homossexual"], "range": ["#1B9E77", "#D95F02"]}, "legend": null}
          }
        },
        {
          "data": {"name": "estat"},
          "transform": [{"filter": "datum.variante == 'a.original'"}],
          "mark": {"type": "bar", "size": 65, "fill": "white", "fillOpacity": 0.2, "stroke": "#595959", "strokeWidth": 1.3},
          "encoding": {
            "x": {"field": "grupo", "type": "nominal"},
            "y": {"field": "q1", "type": "quantitative"},
            "y2": {"field": "q3"}
          }
        },
        {
          "data": {"name": "estat"},
          "transform": [{"filter": "datum.variante == 'a.original'"}],
          "mark": {"type": "rule", "color": "#595959", "strokeWidth": 1.3},
          "encoding": {
            "x": {"field": "grupo", "type": "nominal"},
            "y": {"field": "lo", "type": "quantitative"},
            "y2": {"field": "q1"}
          }
        },
        {
          "data": {"name": "estat"},
          "transform": [{"filter": "datum.variante == 'a.original'"}],
          "mark": {"type": "rule", "color": "#595959", "strokeWidth": 1.3},
          "encoding": {
            "x": {"field": "grupo", "type": "nominal"},
            "y": {"field": "q3", "type": "quantitative"},
            "y2": {"field": "hi"}
          }
        },
        {
          "data": {"name": "estat"},
          "transform": [{"filter": "datum.variante == 'a.original'"}],
          "mark": {"type": "tick", "size": 65, "thickness": 2.7, "color": "#595959", "opacity": 1},
          "encoding": {
            "x": {"field": "grupo", "type": "nominal"},
            "y": {"field": "mediana", "type": "quantitative"}
          }
        },
        {
          "data": {"name": "violino"},
          "transform": [{"filter": "datum.variante == 'a.original'"}],
          "mark": {"type": "line", "color": "#1A1A1A", "strokeWidth": 1.3},
          "encoding": {
            "x": {"field": "grupo", "type": "nominal"},
            "xOffset": {"field": "dens", "type": "quantitative", "scale": {"domain": [-1, 1], "range": [-213.64, 213.64]}},
            "y": {"field": "valor", "type": "quantitative"},
            "detail": {"field": "grupo", "type": "nominal"},
            "order": {"field": "ordem", "type": "quantitative"}
          }
        },
        {
          "data": {"name": "estat"},
          "transform": [{"filter": "datum.variante == 'a.original'"}],
          "mark": {"type": "circle", "size": 500, "color": "#8B0000", "opacity": 1},
          "encoding": {
            "x": {"field": "grupo", "type": "nominal"},
            "y": {"field": "media", "type": "quantitative"}
          }
        },
        {
          "data": {"name": "estat"},
          "transform": [{"filter": "datum.variante == 'a.original' && datum.grupo == 'Heterossexual'"}],
          "mark": {"type": "point", "shape": "M -0.921 -0.386 H 0.921 Q 1 -0.386 1 -0.307 V 0.307 Q 1 0.386 0.921 0.386 H -0.921 Q -1 0.386 -1 0.307 V -0.307 Q -1 -0.386 -0.921 -0.386 Z", "size": 10201, "filled": true, "fill": "white", "stroke": "black", "strokeWidth": 1.3, "opacity": 1, "xOffset": -22.6, "yOffset": 28.4},
          "encoding": {
            "x": {"field": "grupo", "type": "nominal"},
            "y": {"field": "media", "type": "quantitative"}
          }
        },
        {
          "data": {"name": "estat"},
          "transform": [{"filter": "datum.variante == 'a.original' && datum.grupo == 'Heterossexual'"}],
          "mark": {"type": "text", "fontSize": 20, "font": "Noto Sans", "color": "black", "align": "left", "baseline": "alphabetic", "xOffset": -61.1, "yOffset": 38.4},
          "encoding": {
            "x": {"field": "grupo", "type": "nominal"},
            "y": {"field": "media", "type": "quantitative"},
            "text": {"field": "rotulo"}
          }
        },
        {
          "data": {"name": "estat"},
          "transform": [{"filter": "datum.variante == 'a.original' && datum.grupo == 'Homossexual'"}],
          "mark": {"type": "point", "shape": "M -0.921 -0.386 H 0.921 Q 1 -0.386 1 -0.307 V 0.307 Q 1 0.386 0.921 0.386 H -0.921 Q -1 0.386 -1 0.307 V -0.307 Q -1 -0.386 -0.921 -0.386 Z", "size": 10201, "filled": true, "fill": "white", "stroke": "black", "strokeWidth": 1.3, "opacity": 1, "xOffset": 24, "yOffset": -30},
          "encoding": {
            "x": {"field": "grupo", "type": "nominal"},
            "y": {"field": "media", "type": "quantitative"}
          }
        },
        {
          "data": {"name": "estat"},
          "transform": [{"filter": "datum.variante == 'a.original' && datum.grupo == 'Homossexual'"}],
          "mark": {"type": "text", "fontSize": 20, "font": "Noto Sans", "color": "black", "align": "left", "baseline": "alphabetic", "xOffset": -14.5, "yOffset": -20},
          "encoding": {
            "x": {"field": "grupo", "type": "nominal"},
            "y": {"field": "media", "type": "quantitative"},
            "text": {"field": "rotulo"}
          }
        }
      ]
    },
    {
      "title": {"text": "VARIANTE: longo", "anchor": "start", "frame": "group", "fontSize": 28, "fontWeight": "bold", "color": "#000000", "font": "Liberation Sans", "offset": 54},
      "width": 470,
      "height": 563,
      "layer": [
        {
          "data": {"name": "pontos"},
          "transform": [{"filter": "datum.variante == 'longo'"}],
          "mark": {"type": "circle", "size": 140, "opacity": 0.4},
          "encoding": {
            "x": {"field": "grupo", "type": "nominal", "scale": {"type": "point", "padding": 0.6}, "axis": {"title": null, "labelAngle": 0, "grid": true, "gridWidth": 1.2}},
            "xOffset": {"field": "jitter", "type": "quantitative", "scale": {"domain": [-1, 1], "range": [-213.64, 213.64]}},
            "y": {"field": "valor", "type": "quantitative", "scale": {"domain": [-2.104, 2.771], "nice": false, "zero": false},
              "axis": {"title": "GÊNERO/SEXUALIDADE", "values": [-2, -1.5, -1, -0.5, 0, 0.5, 1, 1.5, 2, 2.5], "grid": true,
                "labelExpr": "datum.value % 1 == 0 ? ('' + datum.value) : ''",
                "tickOpacity": {"condition": {"test": "datum.value % 1 != 0", "value": 0}, "value": 1},
                "gridWidth": {"condition": {"test": "datum.value % 1 != 0", "value": 0.7}, "value": 1.3},
                "titlePadding": 4}},
            "color": {"field": "grupo", "type": "nominal", "scale": {"domain": ["Heterossexual", "Homossexual"], "range": ["#1B9E77", "#D95F02"]}, "legend": null}
          }
        },
        {
          "data": {"name": "estat"},
          "transform": [{"filter": "datum.variante == 'longo'"}],
          "mark": {"type": "bar", "size": 65, "fill": "white", "fillOpacity": 0.2, "stroke": "#595959", "strokeWidth": 1.3},
          "encoding": {
            "x": {"field": "grupo", "type": "nominal"},
            "y": {"field": "q1", "type": "quantitative"},
            "y2": {"field": "q3"}
          }
        },
        {
          "data": {"name": "estat"},
          "transform": [{"filter": "datum.variante == 'longo'"}],
          "mark": {"type": "rule", "color": "#595959", "strokeWidth": 1.3},
          "encoding": {
            "x": {"field": "grupo", "type": "nominal"},
            "y": {"field": "lo", "type": "quantitative"},
            "y2": {"field": "q1"}
          }
        },
        {
          "data": {"name": "estat"},
          "transform": [{"filter": "datum.variante == 'longo'"}],
          "mark": {"type": "rule", "color": "#595959", "strokeWidth": 1.3},
          "encoding": {
            "x": {"field": "grupo", "type": "nominal"},
            "y": {"field": "q3", "type": "quantitative"},
            "y2": {"field": "hi"}
          }
        },
        {
          "data": {"name": "estat"},
          "transform": [{"filter": "datum.variante == 'longo'"}],
          "mark": {"type": "tick", "size": 65, "thickness": 2.7, "color": "#595959", "opacity": 1},
          "encoding": {
            "x": {"field": "grupo", "type": "nominal"},
            "y": {"field": "mediana", "type": "quantitative"}
          }
        },
        {
          "data": {"name": "violino"},
          "transform": [{"filter": "datum.variante == 'longo'"}],
          "mark": {"type": "line", "color": "#1A1A1A", "strokeWidth": 1.3},
          "encoding": {
            "x": {"field": "grupo", "type": "nominal"},
            "xOffset": {"field": "dens", "type": "quantitative", "scale": {"domain": [-1, 1], "range": [-213.64, 213.64]}},
            "y": {"field": "valor", "type": "quantitative"},
            "detail": {"field": "grupo", "type": "nominal"},
            "order": {"field": "ordem", "type": "quantitative"}
          }
        },
        {
          "data": {"name": "estat"},
          "transform": [{"filter": "datum.variante == 'longo'"}],
          "mark": {"type": "circle", "size": 500, "color": "#8B0000", "opacity": 1},
          "encoding": {
            "x": {"field": "grupo", "type": "nominal"},
            "y": {"field": "media", "type": "quantitative"}
          }
        },
        {
          "data": {"name": "estat"},
          "transform": [{"filter": "datum.variante == 'longo' && datum.grupo == 'Heterossexual'"}],
          "mark": {"type": "point", "shape": "M -0.909 -0.4545 H 0.909 Q 1 -0.4545 1 -0.3635 V 0.3635 Q 1 0.4545 0.909 0.4545 H -0.909 Q -1 0.4545 -1 0.3635 V -0.3635 Q -1 -0.4545 -0.909 -0.4545 Z", "size": 7744, "filled": true, "fill": "white", "stroke": "black", "strokeWidth": 1.3, "opacity": 1, "xOffset": 23.3, "yOffset": -26},
          "encoding": {
            "x": {"field": "grupo", "type": "nominal"},
            "y": {"field": "media", "type": "quantitative"}
          }
        },
        {
          "data": {"name": "estat"},
          "transform": [{"filter": "datum.variante == 'longo' && datum.grupo == 'Heterossexual'"}],
          "mark": {"type": "text", "fontSize": 20, "font": "Noto Sans", "color": "black", "align": "left", "baseline": "alphabetic", "xOffset": -8.7, "yOffset": -16},
          "encoding": {
            "x": {"field": "grupo", "type": "nominal"},
            "y": {"field": "media", "type": "quantitative"},
            "text": {"field": "rotulo"}
          }
        },
        {
          "data": {"name": "estat"},
          "transform": [{"filter": "datum.variante == 'longo' && datum.grupo == 'Homossexual'"}],
          "mark": {"type": "point", "shape": "M -0.909 -0.4545 H 0.909 Q 1 -0.4545 1 -0.3635 V 0.3635 Q 1 0.4545 0.909 0.4545 H -0.909 Q -1 0.4545 -1 0.3635 V -0.3635 Q -1 -0.4545 -0.909 -0.4545 Z", "size": 7744, "filled": true, "fill": "white", "stroke": "black", "strokeWidth": 1.3, "opacity": 1, "xOffset": 24.7, "yOffset": -26},
          "encoding": {
            "x": {"field": "grupo", "type": "nominal"},
            "y": {"field": "media", "type": "quantitative"}
          }
        },
        {
          "data": {"name": "estat"},
          "transform": [{"filter": "datum.variante == 'longo' && datum.grupo == 'Homossexual'"}],
          "mark": {"type": "text", "fontSize": 20, "font": "Noto Sans", "color": "black", "align": "left", "baseline": "alphabetic", "xOffset": -7.3, "yOffset": -16},
          "encoding": {
            "x": {"field": "grupo", "type": "nominal"},
            "y": {"field": "media", "type": "quantitative"},
            "text": {"field": "rotulo"}
          }
        }
      ]
    }
  ]
}
